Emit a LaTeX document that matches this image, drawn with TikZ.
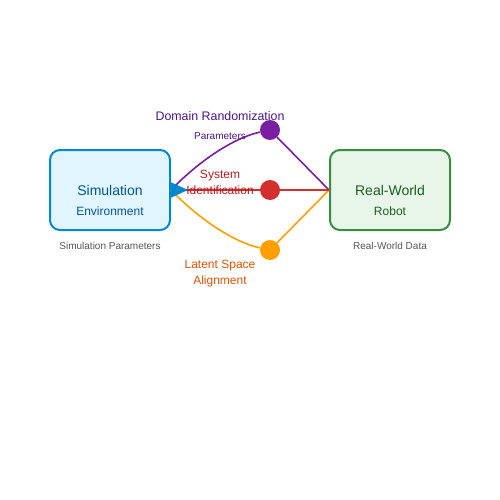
\documentclass[tikz,border=0pt]{standalone}
\usepackage{fontspec}
\setmainfont{Liberation Sans}
\usetikzlibrary{positioning,arrows.meta}
\definecolor{simfill}{HTML}{E1F5FE}
\definecolor{simline}{HTML}{0288D1}
\definecolor{simtext}{HTML}{01579B}
\definecolor{realfill}{HTML}{E8F5E9}
\definecolor{realline}{HTML}{388E3C}
\definecolor{realtext}{HTML}{1B5E20}
\definecolor{drcol}{HTML}{7B1FA2}
\definecolor{drtext}{HTML}{4A148C}
\definecolor{sicol}{HTML}{D32F2F}
\definecolor{sitext}{HTML}{B71C1C}
\definecolor{lacol}{HTML}{FFA000}
\definecolor{latext}{HTML}{E65100}
\definecolor{captext}{HTML}{555555}
\tikzset{
  envbox/.style={draw, line width=2pt, rounded corners=10pt, minimum width=120pt, minimum height=80pt},
  method/.style={circle, fill, inner sep=0pt, minimum size=20pt},
  link/.style={line width=1.6pt},
  caption/.style={font=\fontsize{10}{12}\selectfont, text=captext}
}
\begin{document}
\begin{tikzpicture}[x=1pt,y=-1pt]
\useasboundingbox (0,0) rectangle (500,500);
\node[envbox, draw=simline, fill=simfill] (sim) at (110,190) {};
\node[envbox, draw=realline, fill=realfill] (real) at (390,190) {};
\node[method, fill=drcol] (dr) at (270,130) {};
\node[method, fill=sicol] (si) at (270,190) {};
\node[method, fill=lacol] (la) at (270,250) {};
\draw[link, drcol] (sim.east) .. controls (203,157) and (237,137) .. (dr);
\draw[link, lacol] (sim.east) .. controls (203,223) and (237,243) .. (la);
\draw[link, drcol] (dr) -- (real.west);
\draw[link, lacol] (la) -- (real.west);
\draw[link, sicol] (real.west) -- (si);
\draw[link, sicol, {Triangle[reversed, color=simline, length=17pt, width=15pt]}-] (sim.east) -- (si);
\node[text=simtext, font=\fontsize{14}{16}\selectfont] (simt) at (110,190) {Simulation};
\node[text=simtext, font=\fontsize{12}{14}\selectfont] (sime) at (110,211) {Environment};
\node[text=realtext, font=\fontsize{14}{16}\selectfont] (realt) at (390,190) {Real-World};
\node[text=realtext, font=\fontsize{12}{14}\selectfont] (realr) at (390,211) {Robot};
\node[caption] (simc) at (110,246) {Simulation Parameters};
\node[caption] (realc) at (390,246) {Real-World Data};
\node[text=drtext, font=\fontsize{12.4}{14}\selectfont] (drt) at (220,116) {Domain Randomization};
\node[text=drtext, font=\fontsize{10}{12}\selectfont] (drp) at (220,136) {Parameters};
\node[text=sitext, font=\fontsize{12}{14}\selectfont] (sit) at (220,176) {System};
\node[text=sitext, font=\fontsize{12}{14}\selectfont] (sii) at (220,190) {Identification};
\node[text=latext, font=\fontsize{12}{14}\selectfont] (lat) at (220,266) {Latent Space};
\node[text=latext, font=\fontsize{12}{14}\selectfont] (laa) at (220,281) {Alignment};
\end{tikzpicture}
\end{document}
